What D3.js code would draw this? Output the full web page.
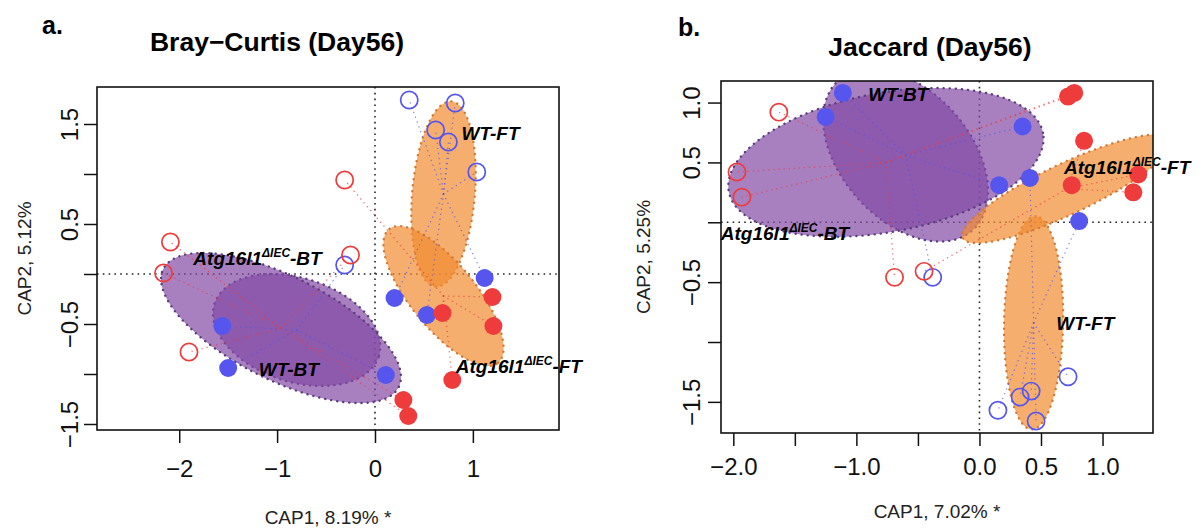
<!DOCTYPE html>
<html>
<head>
<meta charset="utf-8">
<script src="https://cdn.jsdelivr.net/npm/d3@7"></script>
<style>
  body { margin: 0; background: #fff; }
  svg { display: block; font-family: "Liberation Sans", Arial, sans-serif; }
</style>
</head>
<body>
<div id="vis"></div>
<script>
// group order used by the ellipse / label arrays
const GROUPS = ["WT-BT", "WT-FT", "Atg-BT", "Atg-FT"];

// ---- a. Bray-Curtis (Day56) : CAP scores ----
const BC_GROUP = ["WT-FT","WT-FT","WT-FT","WT-FT","WT-FT","WT-FT","WT-FT","WT-FT",
                  "WT-BT","WT-BT","WT-BT","WT-BT",
                  "Atg-BT","Atg-BT","Atg-BT","Atg-BT","Atg-BT","Atg-BT",
                  "Atg-FT","Atg-FT","Atg-FT","Atg-FT","Atg-FT"];
const BC_CAP1 = [0.35, 0.82, 0.62, 0.75, 1.04, 1.12, 0.20, 0.53,
                 -0.31, -1.56, -1.50, 0.11,
                 -2.09, -2.16, -1.90, -0.25, 0.29, 0.34,
                 -0.31, 1.20, 1.21, 0.69, 0.79];
const BC_CAP2 = [1.74, 1.71, 1.44, 1.32, 1.02, -0.04, -0.24, -0.41,
                 0.09, -0.52, -0.94, -1.01,
                 0.32, 0.01, -0.78, 0.19, -1.26, -1.42,
                 0.94, -0.23, -0.52, -0.39, -1.06];
const BC_FILLED = [0,0,0,0,0,1,1,1, 0,1,1,1, 0,0,0,0,1,1, 0,1,1,1,1];

// ellipses (centre, semi axes, angle in degrees), GROUPS order
const BC_ELL_CX = [-0.80, 0.70, -0.96, 0.70];
const BC_ELL_CY = [-0.56, 0.80, -0.54, -0.22];
const BC_ELL_A = [0.88, 0.93, 1.34, 0.87];
const BC_ELL_B = [0.52, 0.32, 0.52, 0.33];
const BC_ELL_ANGLE = [-17, 85, -26, -50];

// group label anchors, GROUPS order
const BC_LAB_X = [-0.88, 1.18, -1.20, 1.47];
const BC_LAB_Y = [-0.95, 1.41, 0.16, -0.92];

const BC_XTICKS = [-2, -1, 0, 1];
const BC_XLABELS = [-2, -1, 0, 1];
const BC_YTICKS = [-1.5, -1, -0.5, 0, 0.5, 1, 1.5];
const BC_YLABELS = [-1.5, -0.5, 0.5, 1.5];

// ---- b. Jaccard (Day56) ----
const JAC_GROUP = ["WT-BT","WT-BT","WT-BT","WT-BT","WT-BT",
                   "WT-FT","WT-FT","WT-FT","WT-FT","WT-FT","WT-FT","WT-FT",
                   "Atg-BT","Atg-BT","Atg-BT","Atg-BT","Atg-BT","Atg-BT",
                   "Atg-FT","Atg-FT","Atg-FT","Atg-FT","Atg-FT"];
const JAC_CAP1 = [-1.11, -1.25, 0.35, 0.16, -0.38,
                  0.41, 0.81, 0.72, 0.42, 0.33, 0.15, 0.46,
                  -1.63, -1.97, -1.93, -0.69, 0.72, 0.77,
                  -0.45, 0.85, 0.75, 1.29, 1.25];
const JAC_CAP2 = [1.08, 0.88, 0.80, 0.31, -0.46,
                  0.37, 0.01, -1.29, -1.41, -1.46, -1.57, -1.66,
                  0.92, 0.42, 0.21, -0.46, 1.05, 1.08,
                  -0.41, 0.68, 0.31, 0.40, 0.25];
const JAC_FILLED = [1,1,1,1,0, 1,1,0,0,0,0,0, 0,0,0,0,1,1, 0,1,1,1,1];

const JAC_ELL_CX = [-0.60, 0.44, -0.76, 0.71];
const JAC_ELL_CY = [0.56, -0.84, 0.50, 0.28];
const JAC_ELL_A = [0.83, 0.89, 1.30, 0.94];
const JAC_ELL_B = [0.53, 0.24, 0.58, 0.21];
const JAC_ELL_ANGLE = [-50, 89, 11, 26];

const JAC_LAB_X = [-0.66, 0.86, -1.58, 1.20];
const JAC_LAB_Y = [1.07, -0.84, -0.09, 0.46];

const JAC_XTICKS = [-2, -1.5, -1, -0.5, 0, 0.5, 1];
const JAC_XLABELS = [-2, -1, 0, 0.5, 1];
const JAC_YTICKS = [-1.5, -1, -0.5, 0, 0.5, 1];
const JAC_YLABELS = [-1.5, -0.5, 0.5, 1];

// ---- styles ----
const BLUE = "#5656ee";
const RED = "#ee3b3b";
const PURPLE_FILL = "rgba(131, 74, 165, 0.7)";
const ORANGE_FILL = "rgba(242, 140, 50, 0.7)";
const PURPLE_EDGE = "#5b3d7c";
const ORANGE_EDGE = "#d27a33";

const FRAME_WIDTH = 1203;
const FRAME_HEIGHT = 531;

const SVG = d3.select("#vis")
  .append("svg")
    .attr("width", FRAME_WIDTH)
    .attr("height", FRAME_HEIGHT);

const PANELS = [
  {
    id: "bc", letter: "a.", title: "Bray\u2212Curtis (Day56)",
    xlab: "CAP1, 8.19% *", ylab: "CAP2, 5.12%",
    group: BC_GROUP, xs: BC_CAP1, ys: BC_CAP2, filled: BC_FILLED,
    ell: {cx: BC_ELL_CX, cy: BC_ELL_CY, a: BC_ELL_A, b: BC_ELL_B, angle: BC_ELL_ANGLE},
    labX: BC_LAB_X, labY: BC_LAB_Y,
    xTicks: BC_XTICKS, xLabels: BC_XLABELS, xFmt: d3.format("d"),
    yTicks: BC_YTICKS, yLabels: BC_YLABELS, yFmt: d3.format(".1f"),
    xDomain: [-2.84, 1.88], yDomain: [-1.56, 1.87],
    left: 97, right: 559, top: 87, bottom: 430,
    letterX: 42, letterY: 34, titleX: 277, titleY: 51,
    xlabY: 524, ylabX: 31, xTickLabY: 477, yTickLabX: 78
  },
  {
    id: "jac", letter: "b.", title: "Jaccard (Day56)",
    xlab: "CAP1, 7.02% *", ylab: "CAP2, 5.25%",
    group: JAC_GROUP, xs: JAC_CAP1, ys: JAC_CAP2, filled: JAC_FILLED,
    ell: {cx: JAC_ELL_CX, cy: JAC_ELL_CY, a: JAC_ELL_A, b: JAC_ELL_B, angle: JAC_ELL_ANGLE},
    labX: JAC_LAB_X, labY: JAC_LAB_Y,
    xTicks: JAC_XTICKS, xLabels: JAC_XLABELS, xFmt: d3.format(".1f"),
    yTicks: JAC_YTICKS, yLabels: JAC_YLABELS, yFmt: d3.format(".1f"),
    xDomain: [-2.10, 1.41], yDomain: [-1.76, 1.18],
    left: 721, right: 1153, top: 81, bottom: 433,
    letterX: 678, letterY: 36, titleX: 930, titleY: 56,
    xlabY: 518, ylabX: 650, xTickLabY: 475, yTickLabX: 700
  }
];

function isWT(g) { return g.startsWith("WT"); }
function isBT(g) { return g.endsWith("BT"); }

// points of an ellipse given in data units, mapped through the scales
function ellipsePath(cx, cy, a, b, angle, X, Y) {
  const th = angle * Math.PI / 180;
  const pts = d3.range(120).map((i) => {
    const t = 2 * Math.PI * i / 120;
    const u = a * Math.cos(t), v = b * Math.sin(t);
    return [X(cx + u * Math.cos(th) - v * Math.sin(th)),
            Y(cy + u * Math.sin(th) + v * Math.cos(th))];
  });
  return d3.line().curve(d3.curveLinearClosed)(pts);
}

function addGroupLabel(sel, g, x, y) {
  const t = sel.append("text")
    .attr("x", x).attr("y", y)
    .attr("text-anchor", "middle")
    .attr("font-size", 19)
    .attr("font-weight", "bold")
    .attr("font-style", "italic")
    .attr("fill", "#000");
  if (isWT(g)) {
    t.text(g);
  } else {
    t.append("tspan").text("Atg16l1");
    t.append("tspan").attr("font-size", 12).attr("dy", -8).text("\u0394IEC");
    t.append("tspan").attr("dy", 8).text("-" + g.split("-")[1]);
  }
}

PANELS.forEach((p) => {
  const X = d3.scaleLinear().domain(p.xDomain).range([p.left, p.right]);
  const Y = d3.scaleLinear().domain(p.yDomain).range([p.bottom, p.top]);
  const G = SVG.append("g").attr("class", p.id);

  // clip to plot region
  G.append("clipPath").attr("id", "clip-" + p.id)
    .append("rect")
      .attr("x", p.left).attr("y", p.top)
      .attr("width", p.right - p.left).attr("height", p.bottom - p.top);
  const PLOT = G.append("g").attr("clip-path", "url(#clip-" + p.id + ")");

  // zero lines
  PLOT.append("line")
    .attr("x1", X(0)).attr("x2", X(0)).attr("y1", p.top).attr("y2", p.bottom)
    .attr("stroke", "#222").attr("stroke-width", 1.6)
    .attr("stroke-dasharray", "1.6,4.2");
  PLOT.append("line")
    .attr("x1", p.left).attr("x2", p.right).attr("y1", Y(0)).attr("y2", Y(0))
    .attr("stroke", "#222").attr("stroke-width", 1.6)
    .attr("stroke-dasharray", "1.6,4.2");

  // ellipses
  GROUPS.forEach((g, i) => {
    PLOT.append("path")
      .attr("d", ellipsePath(p.ell.cx[i], p.ell.cy[i], p.ell.a[i], p.ell.b[i], p.ell.angle[i], X, Y))
      .attr("fill", isBT(g) ? PURPLE_FILL : ORANGE_FILL)
      .attr("stroke", isBT(g) ? PURPLE_EDGE : ORANGE_EDGE)
      .attr("stroke-width", 2.4)
      .attr("stroke-linecap", "round")
      .attr("stroke-dasharray", "0.1,6");
  });

  // spiders from group centre to each point
  const idx = d3.range(p.group.length);
  PLOT.selectAll(".spider")
    .data(idx)
    .enter()
    .append("line")
      .attr("x1", (i) => X(p.ell.cx[GROUPS.indexOf(p.group[i])]))
      .attr("y1", (i) => Y(p.ell.cy[GROUPS.indexOf(p.group[i])]))
      .attr("x2", (i) => X(p.xs[i]))
      .attr("y2", (i) => Y(p.ys[i]))
      .attr("stroke", (i) => isWT(p.group[i]) ? BLUE : RED)
      .attr("stroke-width", 1.4)
      .attr("stroke-linecap", "round")
      .attr("stroke-dasharray", "0.1,5")
      .attr("opacity", 0.7);

  // points
  G.selectAll(".pt")
    .data(idx)
    .enter()
    .append("circle")
      .attr("cx", (i) => X(p.xs[i]))
      .attr("cy", (i) => Y(p.ys[i]))
      .attr("r", (i) => p.filled[i] ? 9 : 8.6)
      .attr("fill", (i) => p.filled[i] ? (isWT(p.group[i]) ? BLUE : RED) : "none")
      .attr("stroke", (i) => isWT(p.group[i]) ? BLUE : RED)
      .attr("stroke-width", (i) => p.filled[i] ? 0 : 1.7);

  // group labels
  GROUPS.forEach((g, i) => {
    addGroupLabel(G, g, X(p.labX[i]), Y(p.labY[i]) + 7);
  });

  // box
  G.append("rect")
    .attr("x", p.left).attr("y", p.top)
    .attr("width", p.right - p.left).attr("height", p.bottom - p.top)
    .attr("fill", "none").attr("stroke", "#111").attr("stroke-width", 1.6);

  // x axis
  const XA = G.append("g")
    .attr("transform", "translate(0," + p.bottom + ")")
    .call(d3.axisBottom(X).tickValues(p.xTicks).tickSize(13)
      .tickFormat((d) => p.xLabels.includes(d) ? p.xFmt(d) : ""));
  XA.select(".domain").remove();
  XA.selectAll(".tick line").attr("stroke", "#111").attr("stroke-width", 1.5);
  XA.selectAll(".tick text")
    .attr("y", p.xTickLabY - p.bottom).attr("dy", null)
    .attr("font-size", 24).attr("font-family", null).attr("fill", "#111");

  // y axis, labels parallel to the axis
  const YA = G.append("g")
    .attr("transform", "translate(" + p.left + ",0)")
    .call(d3.axisLeft(Y).tickValues(p.yTicks).tickSize(13)
      .tickFormat((d) => p.yLabels.includes(d) ? p.yFmt(d) : ""));
  YA.select(".domain").remove();
  YA.selectAll(".tick line").attr("stroke", "#111").attr("stroke-width", 1.5);
  YA.selectAll(".tick text")
    .attr("x", 0).attr("dy", null)
    .attr("y", -(p.left - p.yTickLabX))
    .attr("transform", "rotate(-90)")
    .attr("text-anchor", "middle")
    .attr("font-size", 24).attr("font-family", null).attr("fill", "#111");

  // axis titles
  G.append("text")
    .attr("x", (p.left + p.right) / 2).attr("y", p.xlabY)
    .attr("text-anchor", "middle").attr("font-size", 19).attr("fill", "#222")
    .text(p.xlab);
  G.append("text")
    .attr("transform", "translate(" + p.ylabX + "," + ((p.top + p.bottom) / 2) + ") rotate(-90)")
    .attr("text-anchor", "middle").attr("font-size", 19).attr("fill", "#222")
    .text(p.ylab);

  // panel letter and title
  G.append("text")
    .attr("x", p.letterX).attr("y", p.letterY)
    .attr("font-size", 25).attr("font-weight", "bold")
    .text(p.letter);
  G.append("text")
    .attr("x", p.titleX).attr("y", p.titleY)
    .attr("text-anchor", "middle")
    .attr("font-size", 26.5).attr("font-weight", "bold")
    .text(p.title);
});
</script>
</body>
</html>
